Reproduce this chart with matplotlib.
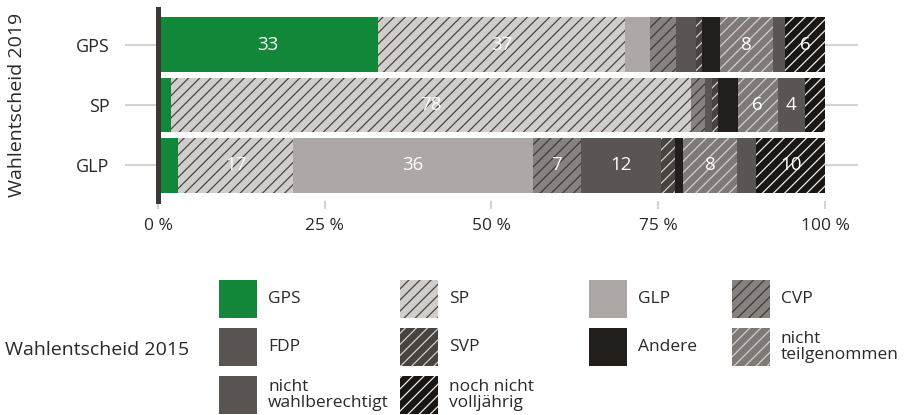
import matplotlib.pyplot as plt
from matplotlib.patches import Rectangle

plt.rcParams['font.family'] = ['Open Sans', 'DejaVu Sans']
plt.rcParams['hatch.linewidth'] = 0.9

# Wahlentscheid 2019 (rows) by Wahlentscheid 2015 (segments), in %
parties_2019 = ['GPS', 'SP', 'GLP']
gps = [33.0, 2.0, 3.0]
sp = [37.0, 77.9, 17.3]
glp = [3.8, 0.0, 35.9]
cvp = [3.8, 2.1, 7.2]
fdp = [3.0, 1.0, 12.0]
svp = [0.9, 1.0, 2.1]
andere = [2.8, 2.9, 1.2]
nicht_teil = [7.9, 6.0, 8.1]
nicht_wahlb = [1.8, 4.1, 2.9]
noch_nicht = [6.0, 3.0, 10.3]

legend_labels = ['GPS', 'SP', 'GLP', 'CVP', 'FDP', 'SVP', 'Andere',
                 'nicht\nteilgenommen', 'nicht\nwahlberechtigt',
                 'noch nicht\nvolljährig']
x_ticks = [0, 25, 50, 75, 100]
x_ticklabels = ['0 %', '25 %', '50 %', '75 %', '100 %']

series = [gps, sp, glp, cvp, fdp, svp, andere, nicht_teil, nicht_wahlb, noch_nicht]
# (Füllfarbe, Schraffurfarbe, Schraffur)
styles = [
    ('#138739', '#138739', None),
    ('#d0cdcb', '#4a4542', '///'),
    ('#ada8a5', '#ada8a5', None),
    ('#878280', '#3e3a37', '///'),
    ('#5a5552', '#5a5552', None),
    ('#48433f', '#d0cdcb', '///'),
    ('#221e1b', '#221e1b', None),
    ('#7f7a77', '#d3cfcc', '///'),
    ('#5a5552', '#5a5552', None),
    ('#1a1613', '#eeecea', '///'),
]

fig = plt.figure(figsize=(9.15, 4.15), dpi=100)

# Legende (Pixelraster unten)
lax = fig.add_axes([0, 0, 1, 1])
lax.set_xlim(0, 915)
lax.set_ylim(415, 0)
lax.axis('off')
lax.patch.set_visible(False)

ax = fig.add_axes([124.6 / 915, 1 - 201 / 415, 733.8 / 915, 192 / 415])

y = list(range(len(parties_2019)))
left = [0.0] * len(y)
for vals, (fc, hc, hatch) in zip(series, styles):
    bars = ax.barh(y, vals, left=left, height=0.9, color=fc, edgecolor=hc,
                   hatch=hatch, linewidth=0, zorder=2)
    for bar, v in zip(bars, vals):
        if v >= 4:
            ax.text(bar.get_x() + bar.get_width() / 2,
                    bar.get_y() + bar.get_height() / 2, f'{v:.0f}',
                    color='white', fontsize=13.5, ha='center', va='center',
                    zorder=4)
    left = [l + v for l, v in zip(left, vals)]

ax.set_xlim(-5, 105)
ax.set_ylim(2.59, -0.59)
ax.set_yticks(y, parties_2019)
ax.set_xticks(x_ticks, x_ticklabels)
for s in ['top', 'right', 'bottom']:
    ax.spines[s].set_visible(False)
ax.spines['left'].set_position(('data', 0))
ax.spines['left'].set_color('#3b3735')
ax.spines['left'].set_linewidth(3.6)
ax.spines['left'].set_zorder(3)
ax.set_axisbelow(True)
ax.grid(axis='y', color='#d4d2d0', linewidth=1.5)
ax.tick_params(axis='y', length=0, pad=35, labelsize=13, labelcolor='#2b2826')
ax.tick_params(axis='x', length=6, width=1.5, color='#d4d2d0', pad=6,
               labelsize=12.5, labelcolor='#2b2826')

fig.text(17 / 915, 1 - 105 / 415, 'Wahlentscheid 2019', rotation=90,
         ha='center', va='center', fontsize=14, color='#2b2826')

# Legende
lax.text(5, 350, 'Wahlentscheid 2015', ha='left', va='center', fontsize=14,
         color='#2b2826')
col_x = [219, 400, 589, 732]
row_y = [280, 328, 376]
for i, (lab, (fc, hc, hatch)) in enumerate(zip(legend_labels, styles)):
    cx = col_x[i % 4]
    ry = row_y[i // 4]
    lax.add_patch(Rectangle((cx, ry), 38, 38, facecolor=fc, edgecolor=hc,
                            hatch=hatch, linewidth=0))
    lax.text(cx + 49, ry + 19, lab, ha='left', va='center', fontsize=12.5,
             linespacing=1.0, color='#2b2826')

fig.savefig('out.png', dpi=100)
